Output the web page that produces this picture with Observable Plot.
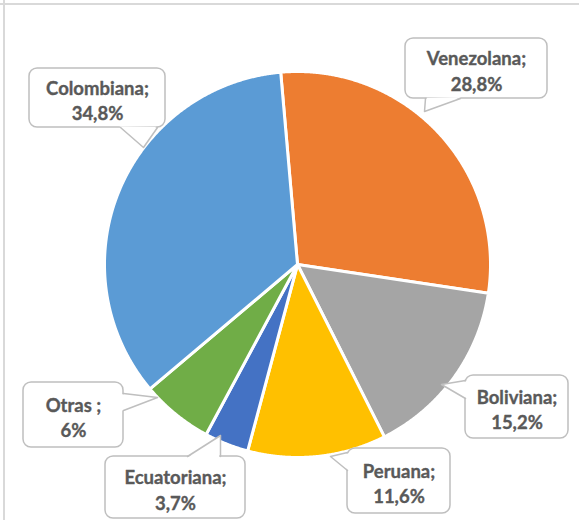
<!DOCTYPE html>
<html>
<head>
<meta charset="utf-8">
<script src="https://cdn.jsdelivr.net/npm/d3@7"></script>
<script src="https://cdn.jsdelivr.net/npm/@observablehq/plot@0.6"></script>
<style>
  html, body { margin: 0; padding: 0; background: #fff; }
  #chart { width: 579px; height: 520px; }
</style>
</head>
<body>
<div id="chart"></div>
<script>
// ---- data ----
const categories = ["Venezolana", "Boliviana", "Peruana", "Ecuatoriana", "Otras", "Colombiana"];
const values = [28.8, 15.2, 11.6, 3.7, 6, 34.8];
const valueLabels = ["28,8%", "15,2%", "11,6%", "3,7%", "6%", "34,8%"];
const nameLabels = ["Venezolana;", "Boliviana;", "Peruana;", "Ecuatoriana;", "Otras ;", "Colombiana;"];

// ---- style / layout ----
const colors = ["#ED7D31", "#A5A5A5", "#FFC000", "#4472C4", "#70AD47", "#5B9BD5"];
const W = 579, H = 520;
const cx = 297, cy = 264, R = 193;
const startDeg = -5;
// callout boxes [x1,y1,x2,y2], pointer base [bx1,by1,bx2,by2], tip [tx,ty]
const callouts = {
  Colombiana:  {box: [29, 68, 165, 127],  base: [120, 127, 157, 127], tip: [143, 147]},
  Venezolana:  {box: [405, 38, 547, 98],  base: [425, 98, 460, 98],   tip: [424, 111]},
  Boliviana:   {box: [465, 375, 568, 438], base: [465, 380, 465, 398], tip: [441, 384]},
  Peruana:     {box: [347, 448, 450, 513], base: [347, 452, 347, 470], tip: [330, 456]},
  Ecuatoriana: {box: [105, 456, 245, 518], base: [187, 456, 220, 456], tip: [220, 435]},
  Otras:       {box: [23, 382, 123, 447],  base: [123, 393, 123, 410], tip: [157, 397]}
};

// ---- build slices ----
const table = categories.map((c, i) => ({cat: c, value: values[i], name: nameLabels[i], pct: valueLabels[i]}));
const a0 = startDeg * Math.PI / 180;
const arcs = d3.pie().sort(null).value(d => d.value).startAngle(a0).endAngle(a0 + 2 * Math.PI)(table);
const slicePts = [];
arcs.forEach(a => {
  const cat = a.data.cat;
  slicePts.push({cat, x: cx, y: cy});
  const n = Math.max(4, Math.ceil((a.endAngle - a.startAngle) / 0.005));
  for (let k = 0; k <= n; k++) {
    const t = a.startAngle + (a.endAngle - a.startAngle) * k / n;
    slicePts.push({cat, x: cx + R * Math.sin(t), y: cy - R * Math.cos(t)});
  }
});

const boxes = table.map(d => {
  const c = callouts[d.cat];
  return {cat: d.cat, x1: c.box[0], y1: c.box[1], x2: c.box[2], y2: c.box[3],
          tx: (c.box[0] + c.box[2]) / 2, ty: (c.box[1] + c.box[3]) / 2 + 1.5,
          text: d.name + "\n" + d.pct};
});
// pointer fill (slightly inset into box to cover border) and pointer outline
const pointerFill = [];
const pointerLine = [];
table.forEach(d => {
  const c = callouts[d.cat];
  const [bx1, by1, bx2, by2] = c.base;
  const bcx = (c.box[0] + c.box[2]) / 2, bcy = (c.box[1] + c.box[3]) / 2;
  const inset = (x, y) => {
    const dx = bcx - x, dy = bcy - y, L = Math.hypot(dx, dy);
    return [x + dx / L * 1.6, y + dy / L * 1.6];
  };
  const p1 = inset(bx1, by1), p2 = inset(bx2, by2);
  pointerFill.push({cat: d.cat, x: p1[0], y: p1[1]}, {cat: d.cat, x: c.tip[0], y: c.tip[1]}, {cat: d.cat, x: p2[0], y: p2[1]});
  pointerLine.push({cat: d.cat, x: bx1, y: by1}, {cat: d.cat, x: c.tip[0], y: c.tip[1]}, {cat: d.cat, x: bx2, y: by2});
});

const chart = Plot.plot({
  width: W, height: H,
  margin: 0,
  x: {domain: [0, W], range: [0, W], axis: null},
  y: {domain: [0, H], range: [0, H], axis: null},
  color: {domain: categories, range: colors},
  style: {fontFamily: "Lato, 'Liberation Sans', sans-serif", background: "white"},
  marks: [
    Plot.ruleX([3.5], {stroke: "#d9d9d9", strokeWidth: 2}),
    Plot.ruleY([3.5], {stroke: "#d9d9d9", strokeWidth: 2}),
    Plot.line(slicePts, {x: "x", y: "y", z: "cat", fill: "cat", stroke: "white", strokeWidth: 3, strokeLinejoin: "round", curve: "linear-closed"}),
    Plot.rect(boxes, {x1: "x1", x2: "x2", y1: "y1", y2: "y2", fill: "white", stroke: "#bfbfbf", strokeWidth: 1.5, rx: 8}),
    Plot.line(pointerFill, {x: "x", y: "y", z: "cat", fill: "white", stroke: "none", curve: "linear-closed"}),
    Plot.line(pointerLine, {x: "x", y: "y", z: "cat", stroke: "#bfbfbf", strokeWidth: 1.5, fill: "none"}),
    Plot.text(boxes, {x: "tx", y: "ty", text: "text", fill: "#595959", fontSize: 18.5, fontWeight: "bold", lineHeight: 1.36, lineAnchor: "middle", textAnchor: "middle", stroke: "#595959", strokeWidth: 0.35})
  ]
});
document.getElementById("chart").appendChild(chart);
</script>
</body>
</html>
